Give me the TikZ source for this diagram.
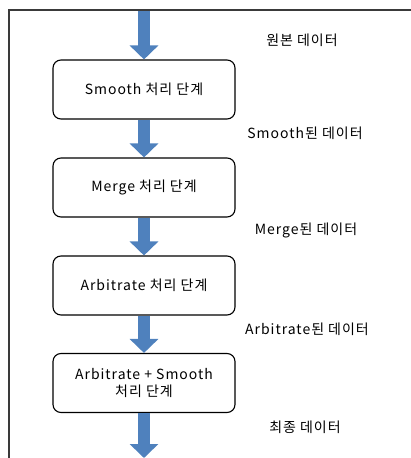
\documentclass[tikz,border=0pt]{standalone}
\usepackage{fontspec}
\setmainfont{Noto Sans CJK KR}[LetterSpace=7]
\usetikzlibrary{arrows.meta, positioning}
\definecolor{cflow}{HTML}{4F81BD}
\definecolor{cframe}{HTML}{3A3A3A}
\tikzset{
  every picture/.style={font=\fontsize{14}{17}\selectfont, x=1pt, y=-1pt},
  stage/.style={draw=black, rounded corners=8pt, line width=1.1pt, align=center,
                minimum width=182pt, minimum height=59pt, inner sep=2pt},
  flow/.style={-{Triangle[length=14pt, width=28pt]}, draw=cflow, line width=12pt},
  datalabel/.style={inner sep=1pt},
  frame/.style={draw=cframe, line width=1.6pt},
}
\begin{document}
\begin{tikzpicture}
  \useasboundingbox (0,0) rectangle (411,458);
  % frame (only top and left side show)
  \draw[frame] (9,458) -- (9,10) -- (411,10);
  \coordinate (start) at (144,10.8);
  \coordinate (finish) at (144,458);
  % stages
  \node[stage] (smooth) at (144,89.5) {Smooth 처리 단계};
  \node[stage] (merge) at (144,187.5) {Merge 처리 단계};
  \node[stage] (arbit) at (144,285.5) {Arbitrate 처리 단계};
  \node[stage] (final) at (144,383) {Arbitrate + Smooth\\처리 단계};
  % flow arrows
  \draw[flow] (start) -- (smooth.north);
  \draw[flow] (smooth.south) -- (merge.north);
  \draw[flow] (merge.south) -- (arbit.north);
  \draw[flow] (arbit.south) -- (final.north);
  \draw[flow] (final.south) -- (finish);
  % data labels
  \node[datalabel] (raw) at (302,40) {원본 데이터};
  \node[datalabel] (smoothed) at (305,133) {Smooth된 데이터};
  \node[datalabel] (merged) at (306,230) {Merge된 데이터};
  \node[datalabel] (arbitrated) at (307,329) {Arbitrate된 데이터};
  \node[datalabel] (result) at (305,427) {최종 데이터};
\end{tikzpicture}
\end{document}
